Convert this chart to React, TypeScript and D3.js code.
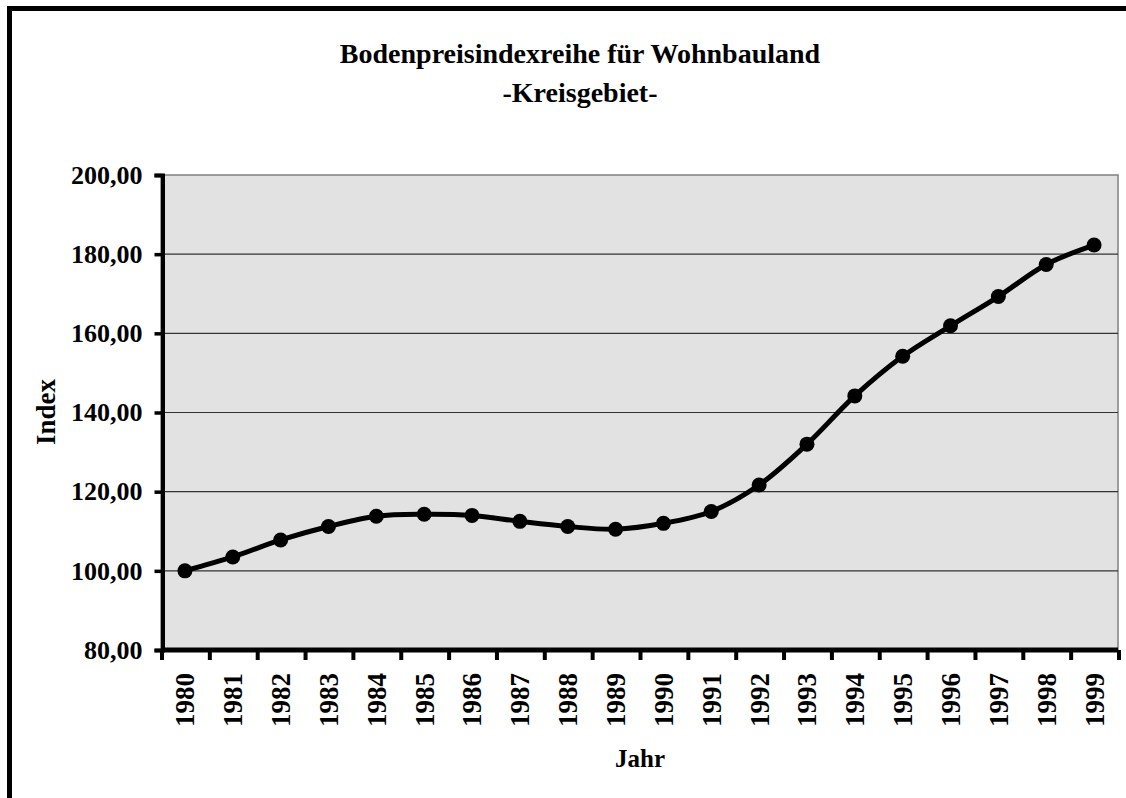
import React, { useEffect, useRef } from 'react';
import * as d3 from 'd3';

const years: string[] = [
    '1980', '1981', '1982', '1983', '1984', '1985', '1986', '1987', '1988', '1989',
    '1990', '1991', '1992', '1993', '1994', '1995', '1996', '1997', '1998', '1999',
];
const indexValues: number[] = [
    100.0, 103.5, 107.8, 111.2, 113.8, 114.3, 114.0, 112.5, 111.2, 110.5,
    112.0, 115.0, 121.7, 132.0, 144.2, 154.2, 161.9, 169.3, 177.4, 182.3,
];
const yTicks: number[] = [80, 100, 120, 140, 160, 180, 200];

const titleLines = ['Bodenpreisindexreihe für Wohnbauland', '-Kreisgebiet-'];

const App: React.FC = () => {
    const svgRef = useRef<SVGSVGElement>(null);

    useEffect(() => {
        if (!svgRef.current) return;
        const svg = d3.select(svgRef.current);
        svg.selectAll('*').remove();

        const font = '"Liberation Serif", "Times New Roman", serif';
        const left = 161, right = 1118, top = 175, bottom = 650;

        // outer frame (right and bottom edges run off the picture)
        svg.append('rect')
            .attr('x', 9.5).attr('y', 8.5)
            .attr('width', 1300).attr('height', 1000)
            .attr('fill', '#fff')
            .attr('stroke', '#000')
            .attr('stroke-width', 5);

        const x = d3.scaleBand<string>()
            .domain(years)
            .range([left, right]);

        const y = d3.scaleLinear()
            .domain([80, 200])
            .range([bottom, top]);

        // title
        svg.append('text')
            .attr('x', 580).attr('y', 63)
            .attr('text-anchor', 'middle')
            .attr('font-family', font)
            .attr('font-weight', 'bold')
            .attr('font-size', 28)
            .selectAll('tspan')
            .data(titleLines)
            .join('tspan')
            .attr('x', 580)
            .attr('dy', (_, i) => (i === 0 ? 0 : 39))
            .text(d => d);

        // plot area
        svg.append('rect')
            .attr('x', left).attr('y', top)
            .attr('width', right - left).attr('height', bottom - top)
            .attr('fill', '#e2e2e2')
            .attr('stroke', '#808080')
            .attr('stroke-width', 1.5);

        // gridlines
        svg.append('g')
            .selectAll('line')
            .data(yTicks.filter(t => t > 80 && t < 200))
            .join('line')
            .attr('x1', left).attr('x2', right)
            .attr('y1', d => y(d)).attr('y2', d => y(d))
            .attr('stroke', '#333')
            .attr('stroke-width', 1.2);

        // y axis
        const yAxis = svg.append('g')
            .attr('transform', `translate(${left + 1.5},0)`)
            .call(d3.axisLeft(y).tickValues(yTicks).tickSize(8).tickPadding(12)
                .tickFormat(d => d3.format('.2f')(d as number).replace('.', ',')));
        yAxis.select('.domain').attr('stroke-width', 4);
        yAxis.selectAll('.tick line').attr('stroke-width', 3.5);
        yAxis.selectAll('.tick text')
            .attr('font-family', font)
            .attr('font-weight', 'bold')
            .attr('font-size', 26)
            .attr('fill', '#000');

        // x axis: ticks at category boundaries
        const xAxis = svg.append('g');
        xAxis.append('line')
            .attr('x1', left).attr('x2', right)
            .attr('y1', bottom).attr('y2', bottom)
            .attr('stroke', '#000')
            .attr('stroke-width', 5);
        xAxis.selectAll('line.tick')
            .data(years.concat(['end']))
            .join('line')
            .attr('class', 'tick')
            .attr('x1', (d, i) => (i < years.length ? (x(d) as number) : right) + 1)
            .attr('x2', (d, i) => (i < years.length ? (x(d) as number) : right) + 1)
            .attr('y1', bottom).attr('y2', bottom + 10)
            .attr('stroke', '#000')
            .attr('stroke-width', 4);
        xAxis.selectAll('text')
            .data(years)
            .join('text')
            .attr('transform', d => `translate(${(x(d) as number) + x.bandwidth() / 2},673) rotate(-90)`)
            .attr('text-anchor', 'end')
            .attr('dy', '0.35em')
            .attr('font-family', font)
            .attr('font-weight', 'bold')
            .attr('font-size', 27)
            .text(d => d);

        // axis titles
        svg.append('text')
            .attr('transform', 'translate(55,412) rotate(-90)')
            .attr('text-anchor', 'middle')
            .attr('font-family', font)
            .attr('font-weight', 'bold')
            .attr('font-size', 27)
            .text('Index');
        svg.append('text')
            .attr('x', 640).attr('y', 767)
            .attr('text-anchor', 'middle')
            .attr('font-family', font)
            .attr('font-weight', 'bold')
            .attr('font-size', 25)
            .text('Jahr');

        // series
        const cx = (i: number) => (x(years[i]) as number) + x.bandwidth() / 2;
        const line = d3.line<number>()
            .x((_, i) => cx(i))
            .y(d => y(d))
            .curve(d3.curveCatmullRom.alpha(0.5));

        svg.append('path')
            .datum(indexValues)
            .attr('fill', 'none')
            .attr('stroke', '#000')
            .attr('stroke-width', 5)
            .attr('stroke-linejoin', 'round')
            .attr('d', line);

        svg.append('g')
            .selectAll('circle')
            .data(indexValues)
            .join('circle')
            .attr('cx', (_, i) => cx(i))
            .attr('cy', d => y(d))
            .attr('r', 7.5)
            .attr('fill', '#000');
    }, []);

    return (
        <svg ref={svgRef} width={1126} height={798}
            style={{ position: 'absolute', left: 0, top: 0, background: '#fff' }}></svg>
    );
};

export default App;
